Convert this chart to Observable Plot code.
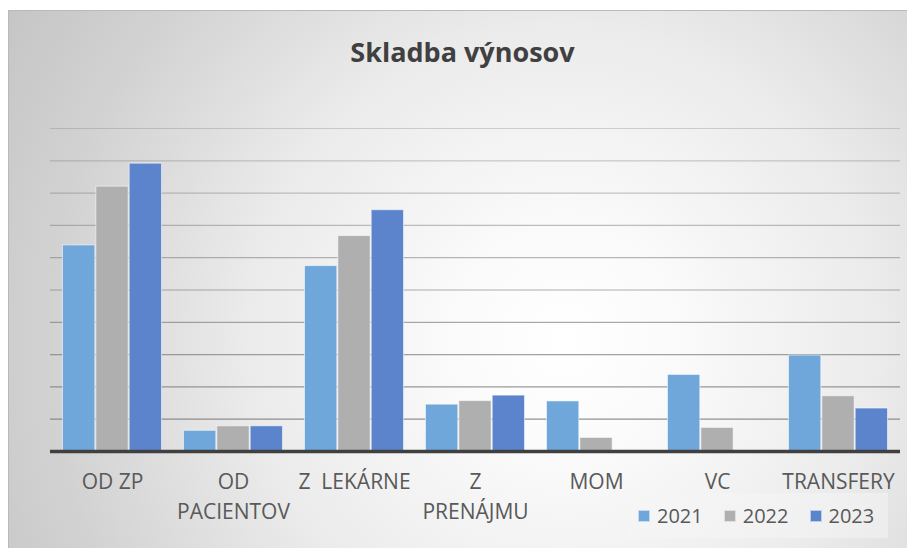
<!DOCTYPE html>
<html>
<head>
<meta charset="utf-8">
<script src="https://cdn.jsdelivr.net/npm/d3@7"></script>
<script src="https://cdn.jsdelivr.net/npm/@observablehq/plot@0.6"></script>
<style>
  html, body { margin: 0; padding: 0; }
  body { background: #ffffff; width: 907px; height: 548px; overflow: hidden; position: relative; font-family: "Open Sans", sans-serif; }
  #frame { position: absolute; left: 8px; top: 10px; width: 898px; height: 537px;
    border-left: 1px solid #b9b9b9; border-top: 1px solid #b9b9b9;
    background: radial-gradient(circle 660px at 555px 330px, #ffffff 0%, #fbfbfb 16%, #ebebeb 48%, #d2d2d2 78%, #c4c4c4 100%); }
  #title { position: absolute; left: 0; width: 925px; top: 38px; text-align: center; font-weight: 700; font-size: 27px; line-height: 27px; color: #404040; }
  #chart { position: absolute; left: 0; top: 0; }
  #chart svg text { white-space: pre; }
  #legend { position: absolute; left: 627px; top: 493px; width: 261px; height: 45px; background: rgba(246,246,246,0.5);
    display: flex; align-items: center; padding-left: 11px; box-sizing: border-box; font-size: 20px; line-height: 20px; color: #595959; }
  .item { display: flex; align-items: center; margin-right: 21px; }
  .sw { width: 12px; height: 12px; margin-right: 7px; box-sizing: border-box; border: 1px solid rgba(255,255,255,0.6); }
</style>
</head>
<body>
<div id="frame"></div>
<div id="title">Skladba výnosov</div>
<div id="chart"></div>
<div id="legend"></div>
<script>
const categories = ["OD ZP", "OD PACIENTOV", "Z LEKÁRNE", "Z PRENÁJMU", "MOM", "VC", "TRANSFERY"];
const categoryLabels = ["OD ZP", "OD\nPACIENTOV", "Z  LEKÁRNE", "Z\nPRENÁJMU", "MOM", "VC", "TRANSFERY"];
const years = ["2021", "2022", "2023"];
const values2021 = [6.38, 0.64, 5.74, 1.45, 1.55, 2.37, 2.97];
const values2022 = [8.20, 0.78, 6.67, 1.56, 0.42, 0.73, 1.71];
const values2023 = [8.91, 0.78, 7.47, 1.73, null, null, 1.33];
const yTicks = [1, 2, 3, 4, 5, 6, 7, 8, 9, 10];
const yearColors = ["#6fa7da", "#afafaf", "#5b84cc"];

const series = [values2021, values2022, values2023];

// layout constants (styling only)
const W = 907, ML = 50, MR = 7;
const padInner = 0.176, padOuter = 0.088;
const step = (W - ML - MR) / (categories.length - padInner + 2 * padOuter);
const bandW = step * (1 - padInner);
const sub = bandW / years.length;

const barMarks = years.map((y, j) => {
  const rows = categories
    .map((c, i) => ({category: c, year: y, value: series[j][i]}))
    .filter(d => d.value != null);
  return Plot.barY(rows, {
    x: "category", y: "value", fill: "year",
    stroke: "#ffffff", strokeOpacity: 0.55, strokeWidth: 1,
    insetLeft: j * sub + 0.5, insetRight: (years.length - 1 - j) * sub + 0.5
  });
});

const gridMarks = yTicks.map(t => Plot.ruleY([t], {
  stroke: "#777777",
  strokeOpacity: 0.3 + 0.055 * (10 - t),
  strokeWidth: 1.2
}));

const chart = Plot.plot({
  width: W,
  height: 548,
  marginLeft: ML,
  marginRight: MR,
  marginTop: 128,
  marginBottom: 97,
  style: {background: "transparent", fontFamily: "'Open Sans', sans-serif", overflow: "visible"},
  x: {domain: categories, paddingInner: padInner, paddingOuter: padOuter, axis: null},
  y: {domain: [0, 10], axis: null},
  color: {domain: years, range: yearColors},
  marks: [
    ...gridMarks,
    ...barMarks,
    Plot.ruleY([0], {stroke: "#404040", strokeWidth: 3.5}),
    Plot.axisX({anchor: "bottom", tickSize: 0, tickPadding: 16, fontSize: 21, lineHeight: 1.43, fill: "#595959",
      tickFormat: d => categoryLabels[categories.indexOf(d)], label: null})
  ]
});
document.getElementById("chart").appendChild(chart);

const legend = document.getElementById("legend");
years.forEach((y, i) => {
  const item = document.createElement("div");
  item.className = "item";
  const sw = document.createElement("div");
  sw.className = "sw";
  sw.style.background = yearColors[i];
  const label = document.createElement("span");
  label.textContent = y;
  item.appendChild(sw);
  item.appendChild(label);
  legend.appendChild(item);
});
</script>
</body>
</html>
